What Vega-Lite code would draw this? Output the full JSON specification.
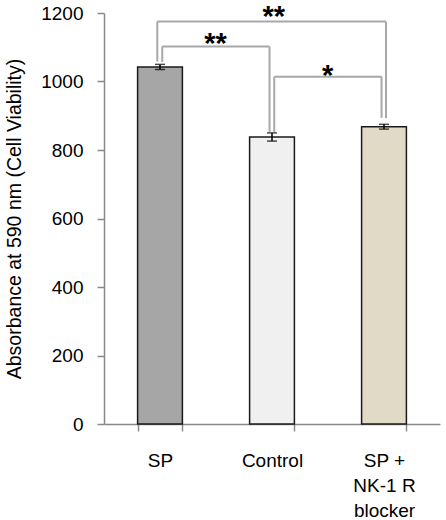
{
  "$schema": "https://vega.github.io/schema/vega-lite/v6.json",
  "autosize": {"type": "none"},
  "padding": {"left": 104, "top": 13, "right": 6, "bottom": 96},
  "width": 336,
  "height": 411,
  "background": "white",
  "config": {
    "font": "Liberation Sans",
    "view": {"stroke": null},
    "axis": {"grid": false}
  },
  "datasets": {
    "bars": [
      {"group": "SP", "value": 1042, "lo": 1035, "hi": 1050},
      {"group": "Control", "value": 838, "lo": 826, "hi": 850},
      {"group": "SP + NK-1 R blocker", "value": 868, "lo": 861, "hi": 875}
    ],
    "brackets": [
      {"from": "SP", "to": "SP + NK-1 R blocker", "y": 1175, "yFrom": 1058, "yTo": 893, "kind": "outer", "label": "**", "labelY": 1209},
      {"from": "SP", "to": "Control", "y": 1102, "yFrom": 1057, "yTo": 853, "kind": "inner", "label": "**", "labelY": 1131},
      {"from": "Control", "to": "SP + NK-1 R blocker", "y": 1014, "yFrom": 853, "yTo": 894, "kind": "inner", "label": "*", "labelY": 1037}
    ]
  },
  "encoding": {
    "x": {
      "field": "group",
      "type": "nominal",
      "title": null,
      "scale": {"type": "band", "domain": ["SP", "Control", "SP + NK-1 R blocker"], "paddingInner": 0.6, "paddingOuter": 0.3},
      "axis": {
        "labelAngle": 0,
        "labelFontSize": 19,
        "labelColor": "#000000",
        "labelPadding": 20,
        "labelLineHeight": 25,
        "labelExpr": "datum.value == 'SP + NK-1 R blocker' ? ['SP +', 'NK-1 R', 'blocker'] : datum.value",
        "domainColor": "#898989",
        "domainWidth": 1.5,
        "tickColor": "#898989",
        "tickWidth": 1.5,
        "tickSize": 7,
        "tickBand": "extent"
      }
    },
    "y": {
      "type": "quantitative",
      "scale": {"domain": [0, 1200], "nice": false, "zero": true},
      "axis": {
        "title": "Absorbance at 590 nm (Cell Viability)",
        "titleFontSize": 19.5,
        "titleFontWeight": "normal",
        "titleColor": "#000000",
        "titlePadding": 16,
        "values": [0, 200, 400, 600, 800, 1000, 1200],
        "format": "d",
        "labelFontSize": 19,
        "labelColor": "#000000",
        "labelPadding": 14,
        "domainColor": "#898989",
        "domainWidth": 1.5,
        "tickColor": "#898989",
        "tickWidth": 1.5,
        "tickSize": 7
      }
    }
  },
  "layer": [
    {
      "data": {"name": "bars"},
      "mark": {"type": "bar", "stroke": "#1a1a1a", "strokeWidth": 1.5},
      "encoding": {
        "y": {"field": "value", "type": "quantitative"},
        "fill": {
          "field": "group",
          "type": "nominal",
          "legend": null,
          "scale": {"domain": ["SP", "Control", "SP + NK-1 R blocker"], "range": ["#a6a6a6", "#f0f0f0", "#e0dac6"]}
        }
      }
    },
    {
      "data": {"name": "bars"},
      "mark": {"type": "rule", "color": "#000000", "strokeWidth": 1.5},
      "encoding": {
        "y": {"field": "lo", "type": "quantitative"},
        "y2": {"field": "hi"}
      }
    },
    {
      "data": {"name": "bars"},
      "mark": {"type": "tick", "color": "#000000", "size": 10, "thickness": 1.5},
      "encoding": {"y": {"field": "lo", "type": "quantitative"}}
    },
    {
      "data": {"name": "bars"},
      "mark": {"type": "tick", "color": "#000000", "size": 10, "thickness": 1.5},
      "encoding": {"y": {"field": "hi", "type": "quantitative"}}
    },
    {
      "data": {"name": "brackets"},
      "transform": [{"filter": "datum.kind == 'outer'"}],
      "mark": {"type": "rule", "color": "#a8a8a8", "strokeWidth": 2},
      "encoding": {
        "x": {"field": "from", "type": "nominal", "bandPosition": 0.44},
        "x2": {"field": "to", "bandPosition": 0.545},
        "y": {"field": "y", "type": "quantitative"}
      }
    },
    {
      "data": {"name": "brackets"},
      "transform": [{"filter": "datum.kind == 'outer'"}],
      "mark": {"type": "rule", "color": "#a8a8a8", "strokeWidth": 2},
      "encoding": {
        "x": {"field": "from", "type": "nominal", "bandPosition": 0.44},
        "y": {"field": "y", "type": "quantitative"},
        "y2": {"field": "yFrom"}
      }
    },
    {
      "data": {"name": "brackets"},
      "transform": [{"filter": "datum.kind == 'outer'"}],
      "mark": {"type": "rule", "color": "#a8a8a8", "strokeWidth": 2},
      "encoding": {
        "x": {"field": "to", "type": "nominal", "bandPosition": 0.545},
        "y": {"field": "y", "type": "quantitative"},
        "y2": {"field": "yTo"}
      }
    },
    {
      "data": {"name": "brackets"},
      "transform": [{"filter": "datum.kind == 'inner'"}],
      "mark": {"type": "rule", "color": "#a8a8a8", "strokeWidth": 2},
      "encoding": {
        "x": {"field": "from", "type": "nominal", "bandPosition": 0.55},
        "x2": {"field": "to", "bandPosition": 0.445},
        "y": {"field": "y", "type": "quantitative"}
      }
    },
    {
      "data": {"name": "brackets"},
      "transform": [{"filter": "datum.kind == 'inner'"}],
      "mark": {"type": "rule", "color": "#a8a8a8", "strokeWidth": 2},
      "encoding": {
        "x": {"field": "from", "type": "nominal", "bandPosition": 0.55},
        "y": {"field": "y", "type": "quantitative"},
        "y2": {"field": "yFrom"}
      }
    },
    {
      "data": {"name": "brackets"},
      "transform": [{"filter": "datum.kind == 'inner'"}],
      "mark": {"type": "rule", "color": "#a8a8a8", "strokeWidth": 2},
      "encoding": {
        "x": {"field": "to", "type": "nominal", "bandPosition": 0.445},
        "y": {"field": "y", "type": "quantitative"},
        "y2": {"field": "yTo"}
      }
    },
    {
      "data": {"name": "brackets"},
      "transform": [{"filter": "datum.kind == 'outer'"}],
      "mark": {"type": "text", "fontSize": 29, "fontWeight": "bold", "color": "#000000", "baseline": "middle", "align": "center", "dy": 7.5},
      "encoding": {
        "x": {"field": "from", "type": "nominal", "bandPosition": 3.04},
        "y": {"field": "labelY", "type": "quantitative"},
        "text": {"field": "label"}
      }
    },
    {
      "data": {"name": "brackets"},
      "transform": [{"filter": "datum.kind == 'inner'"}],
      "mark": {"type": "text", "fontSize": 29, "fontWeight": "bold", "color": "#000000", "baseline": "middle", "align": "center", "dy": 7.5},
      "encoding": {
        "x": {"field": "from", "type": "nominal", "bandPosition": 1.74},
        "y": {"field": "labelY", "type": "quantitative"},
        "text": {"field": "label"}
      }
    }
  ]
}
